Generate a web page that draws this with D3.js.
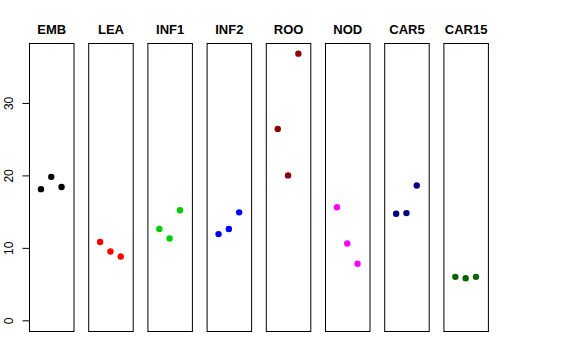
<!DOCTYPE html>
<html>
<head>
<meta charset="utf-8">
<script src="https://cdn.jsdelivr.net/npm/d3@7"></script>
<style>
  body { margin: 0; background: #fff; }
  text { font-family: "Liberation Sans", Arial, sans-serif; }
</style>
</head>
<body>
<svg id="chart" width="576" height="360"></svg>
<script>
var groups = ["EMB", "LEA", "INF1", "INF2", "ROO", "NOD", "CAR5", "CAR15"];
var colors = ["#000000", "#FF0000", "#00CD00", "#0000FF", "#8B0000", "#FF00FF", "#000080", "#006400"];
var values = [
  [18.1, 19.8, 18.4],
  [10.8, 9.5, 8.8],
  [12.6, 11.3, 15.2],
  [11.9, 12.6, 14.9],
  [26.4, 20.0, 36.8],
  [15.6, 10.6, 7.8],
  [14.7, 14.8, 18.6],
  [6.0, 5.8, 6.0]
];
var yTicks = [0, 10, 20, 30];

var svg = d3.select("#chart");
var plotTop = 43, plotBottom = 331;
var firstLeft = 29, step = 59.2, panelW = 44.5;

var yMax = d3.max(values, function (v) { return d3.max(v); });
var pad = yMax * 0.04;
var y = d3.scaleLinear()
    .domain([-pad, yMax + pad])
    .range([plotBottom, plotTop]);

// x within each panel: points at 1..3, limits 0..4 plus 4%
var x = d3.scaleLinear()
    .domain([-0.16, 4.16])
    .range([0, panelW]);

var panels = svg.selectAll(".panel")
    .data(groups)
  .enter().append("g")
    .attr("class", "panel")
    .attr("transform", function (d, i) {
        return "translate(" + (firstLeft + i * step) + ",0)";
    });

panels.append("rect")
    .attr("x", 0.5)
    .attr("y", plotTop + 0.5)
    .attr("width", panelW)
    .attr("height", plotBottom - plotTop)
    .attr("fill", "none")
    .attr("stroke", "#000")
    .attr("stroke-width", 1);

panels.append("text")
    .attr("x", panelW / 2 + 0.5)
    .attr("y", 34)
    .attr("text-anchor", "middle")
    .attr("font-size", 13)
    .attr("font-weight", "bold")
    .text(function (d) { return d; });

panels.selectAll("circle")
    .data(function (d, i) {
        return values[i].map(function (v, j) { return { v: v, j: j + 1, c: colors[i] }; });
    })
  .enter().append("circle")
    .attr("cx", function (d) { return x(d.j); })
    .attr("cy", function (d) { return y(d.v); })
    .attr("r", 3.2)
    .attr("fill", function (d) { return d.c; });

// left axis
var axis = d3.axisLeft(y)
    .tickValues(yTicks)
    .tickSize(7)
    .tickPadding(5);

var ag = svg.append("g")
    .attr("transform", "translate(" + (firstLeft + 0.5) + ",0)")
    .call(axis);

ag.select(".domain")
    .attr("stroke", "#000")
    .attr("d", "M0," + y(0) + "V" + y(30));
ag.selectAll(".tick line").attr("stroke", "#000");
ag.selectAll(".tick text")
    .attr("font-size", 12)
    .attr("fill", "#000")
    .attr("transform", "rotate(-90)")
    .attr("x", 0)
    .attr("y", -17)
    .attr("dy", 0)
    .attr("text-anchor", "middle");
</script>
</body>
</html>
